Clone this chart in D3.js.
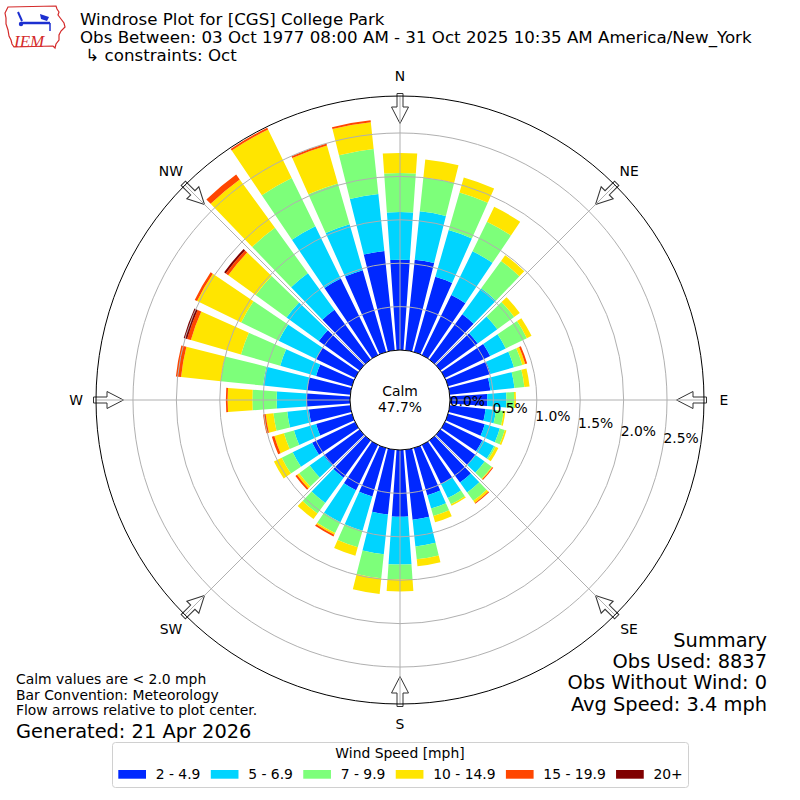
<!DOCTYPE html>
<html><head><meta charset="utf-8">
<script src="https://cdn.jsdelivr.net/npm/d3@7"></script>
<style>
body{margin:0;background:#fff}
text{font-family:"DejaVu Sans",sans-serif;fill:#000}
</style>
</head><body>
<svg id="chart" width="800" height="800"></svg>
<script>
// ---------------- DATA ----------------
const directions = d3.range(0, 360, 10); // bin centres (deg, meteorological)
const speedBins = ["2 - 4.9", "5 - 6.9", "7 - 9.9", "10 - 14.9", "15 - 19.9", "20+"];
const binColors = ["#0028ff", "#00d4ff", "#7dff7a", "#ffe500", "#ff4600", "#800000"];

// percent of observations per direction, one array per speed bin
const spd2to5 = [1.04,1.05,0.90,0.77,0.645,0.53,0.58,0.51,0.47,0.43,0.415,0.44,0.48,0.50,0.60,0.50,0.565,0.81,
                 0.77,0.75,0.58,0.58,0.53,0.51,0.55,0.43,0.48,0.50,0.50,0.43,0.50,0.58,0.71,0.98,0.98,1.15];
const spd5to7 = [0.55,0.56,0.56,0.56,0.37,0.28,0.20,0.28,0.28,0.22,0.12,0.18,0.15,0.13,0.14,0.18,0.16,0.31,
                 0.55,0.46,0.41,0.41,0.36,0.20,0.25,0.265,0.25,0.345,0.51,0.43,0.48,0.46,0.52,0.67,0.55,0.66];
const spd7to10 = [0.45,0.39,0.45,0.38,0.39,0.24,0.27,0.10,0.115,0.09,0.09,0.06,0.02,0.10,0.12,0.08,0.09,0.15,
                  0.17,0.28,0.20,0.14,0.15,0.15,0.14,0.12,0.16,0.28,0.49,0.47,0.48,0.44,0.645,0.62,0.49,0.52];
const spd10to15 = [0.23,0.21,0.18,0.19,0.08,0.08,0.06,0.035,0.06,0.02,0.02,0.02,0.035,0.01,0.03,0.02,0.075,0.08,
                   0.14,0.18,0.10,0.02,0.08,0.03,0.10,0.115,0.09,0.285,0.46,0.60,0.565,0.39,0.69,0.62,0.455,0.31];
const spd15to20 = [0,0,0,0,0,0,0,0.023,0,0,0,0,0,0.012,0.012,0,0,0,
                   0,0,0,0.023,0,0.023,0,0.03,0.03,0.02,0.06,0.046,0.03,0.035,0.07,0.023,0.023,0.023];
const spd20plus = [0,0,0,0,0,0,0,0,0,0,0,0,0,0,0,0,0,0,
                   0,0,0,0,0,0,0,0,0,0,0,0.04,0,0.023,0,0,0,0];
const series = [spd2to5, spd5to7, spd7to10, spd10to15, spd15to20, spd20plus];

const ringTicks = [0, 0.5, 1.0, 1.5, 2.0, 2.5];
const rMaxPct = 2.926;
const compassNames = ["N","NE","E","SE","S","SW","W","NW"];
const compassAngles = [0,45,90,135,180,225,270,315];
const calmPct = "47.7%";
const titleLines = ["Windrose Plot for [CGS] College Park",
                    "Obs Between: 03 Oct 1977 08:00 AM - 31 Oct 2025 10:35 AM America/New_York",
                    " \u21B3 constraints: Oct"];
const summaryLines = ["Summary", "Obs Used: 8837", "Obs Without Wind: 0", "Avg Speed: 3.4 mph"];
const noteLines = ["Calm values are < 2.0 mph", "Bar Convention: Meteorology", "Flow arrows relative to plot center."];
const generated = "Generated: 21 Apr 2026";

// ---------------- LAYOUT ----------------
const svg = d3.select("#chart");
const cx = 400, cy = 400;
const r = d3.scaleLinear().domain([0, rMaxPct]).range([50, 304]);
const deg = Math.PI / 180;
const halfW = 4; // degrees each side of bin centre
const gridColor = "#b0b0b0";

const plot = svg.append("g").attr("transform", `translate(${cx},${cy})`);

// stacked bars
const arc = d3.arc();
directions.forEach((d, i) => {
  let cum = 0;
  series.forEach((s, k) => {
    const v = s[i];
    if (v <= 0) return;
    const inner = cum, outer = cum + v;
    cum = outer;
    plot.append("path")
      .attr("d", arc({innerRadius: r(inner), outerRadius: r(outer),
                      startAngle: (d - halfW) * deg, endAngle: (d + halfW) * deg}))
      .attr("fill", binColors[k]);
  });
});

// flow arrows (pointing to centre)
const aTip = 276.5, aHead = 293, aEnd = 306.5, hw = 8.5, sw = 3;
compassAngles.forEach(a => {
  const p = `M0,${-aTip} L${hw},${-aHead} L${sw},${-aHead} L${sw},${-aEnd} L${-sw},${-aEnd} L${-sw},${-aHead} L${-hw},${-aHead} Z`;
  plot.append("path").attr("d", p).attr("transform", `rotate(${a})`)
    .attr("fill", "#fff").attr("stroke", "#333").attr("stroke-width", 1);
});

// grid circles
ringTicks.slice(1).forEach(t => {
  plot.append("circle").attr("r", r(t)).attr("fill", "none")
    .attr("stroke", gridColor).attr("stroke-width", 1);
});
// radial grid lines
compassAngles.forEach(a => {
  const s = Math.sin(a * deg), c = Math.cos(a * deg);
  plot.append("line")
    .attr("x1", r(0) * s).attr("y1", -r(0) * c)
    .attr("x2", r(rMaxPct) * s).attr("y2", -r(rMaxPct) * c)
    .attr("stroke", gridColor).attr("stroke-width", 1);
});
// outer spine
plot.append("circle").attr("r", r(rMaxPct)).attr("fill", "none").attr("stroke", "#000").attr("stroke-width", 1);
// calm circle
plot.append("circle").attr("r", r(0)).attr("fill", "#fff").attr("stroke", "#000").attr("stroke-width", 1);

// calm text
plot.append("text").attr("x", 0).attr("y", -4).attr("text-anchor", "middle").attr("font-size", 13.9).text("Calm");
plot.append("text").attr("x", 0).attr("y", 11.7).attr("text-anchor", "middle").attr("font-size", 13.9).text(calmPct);

// ring labels along 100 deg
const fmt = d3.format(".1f");
ringTicks.forEach(t => {
  const rr = r(t);
  plot.append("text")
    .attr("x", rr * Math.sin(100 * deg) + 0.5)
    .attr("y", -rr * Math.cos(100 * deg) - 3)
    .attr("font-size", 13.9).text(fmt(t) + "%");
});

// compass labels
compassAngles.forEach((a, i) => {
  plot.append("text")
    .attr("x", 324 * Math.sin(a * deg)).attr("y", -324 * Math.cos(a * deg))
    .attr("text-anchor", "middle").attr("dominant-baseline", "central")
    .attr("font-size", 13.9).text(compassNames[i]);
});

// ---------------- TITLE ----------------
const titleY = [25, 43.3, 61];
titleLines.forEach((t, i) => {
  svg.append("text").attr("x", 80).attr("y", titleY[i]).attr("font-size", 16.67)
    .style("white-space", "pre").text(t);
});

// logo
const logo = svg.append("g");
logo.append("path")
  .attr("d", "M8,7 L56,6 L57,9 L59,12 L58,15 L61,19 L64,23 L65,27 L61,31 L59,35 L59,40 L56,44 L55,48 L53,46 L14,47 L12,44 L11,40 L9,36 L8,30 L6,24 L6,18 L5,13 Z")
  .attr("fill", "#fff").attr("stroke", "#d42a2a").attr("stroke-width", 1.2);
logo.append("line").attr("x1", 21).attr("y1", 23).attr("x2", 50).attr("y2", 23)
  .attr("stroke", "#1c2fd0").attr("stroke-width", 2.5);
logo.append("line").attr("x1", 18).attr("y1", 12).attr("x2", 22).attr("y2", 21)
  .attr("stroke", "#1c2fd0").attr("stroke-width", 2);
logo.append("path").attr("d", "M40,14 L49,17 L47,21 L41,19 Z").attr("fill", "#1c2fd0");
logo.append("circle").attr("cx", 21).attr("cy", 24).attr("r", 2.2).attr("fill", "#1c2fd0");
logo.append("line").attr("x1", 50).attr("y1", 23).attr("x2", 50).attr("y2", 31)
  .attr("stroke", "#1c2fd0").attr("stroke-width", 1.5);
logo.append("text").attr("x", 14).attr("y", 46.5)
  .style("font-family", "'Liberation Serif', serif").style("font-style", "italic")
  .style("fill", "#d42a2a").attr("font-size", 17).text("IEM");

// ---------------- SUMMARY ----------------
const sumY = [646.7, 668.3, 689.3, 710.7];
summaryLines.forEach((t, i) => {
  svg.append("text").attr("x", 767).attr("y", sumY[i]).attr("text-anchor", "end")
    .attr("font-size", 19.4).text(t);
});
const noteY = [684, 699.5, 715];
noteLines.forEach((t, i) => {
  svg.append("text").attr("x", 16).attr("y", noteY[i]).attr("font-size", 13.9).text(t);
});
svg.append("text").attr("x", 16).attr("y", 737.5).attr("font-size", 19.4).text(generated);

// ---------------- LEGEND ----------------
const lg = svg.append("g");
lg.append("rect").attr("x", 112.5).attr("y", 742.5).attr("width", 576).attr("height", 45)
  .attr("rx", 3).attr("fill", "#fff").attr("stroke", "#d0d0d0").attr("stroke-width", 1);
lg.append("text").attr("x", 400).attr("y", 757.7).attr("text-anchor", "middle")
  .attr("font-size", 13.9).text("Wind Speed [mph]");
let lx = 118.3;
speedBins.forEach((b, i) => {
  lg.append("rect").attr("x", lx).attr("y", 770).attr("width", 27.7).attr("height", 8.7).attr("fill", binColors[i]);
  const t = lg.append("text").attr("x", lx + 37.4).attr("y", 779.3).attr("font-size", 13.9).text(b);
  lx = lx + 37.4 + t.node().getComputedTextLength() + 10.3;
});
</script>
</body></html>
